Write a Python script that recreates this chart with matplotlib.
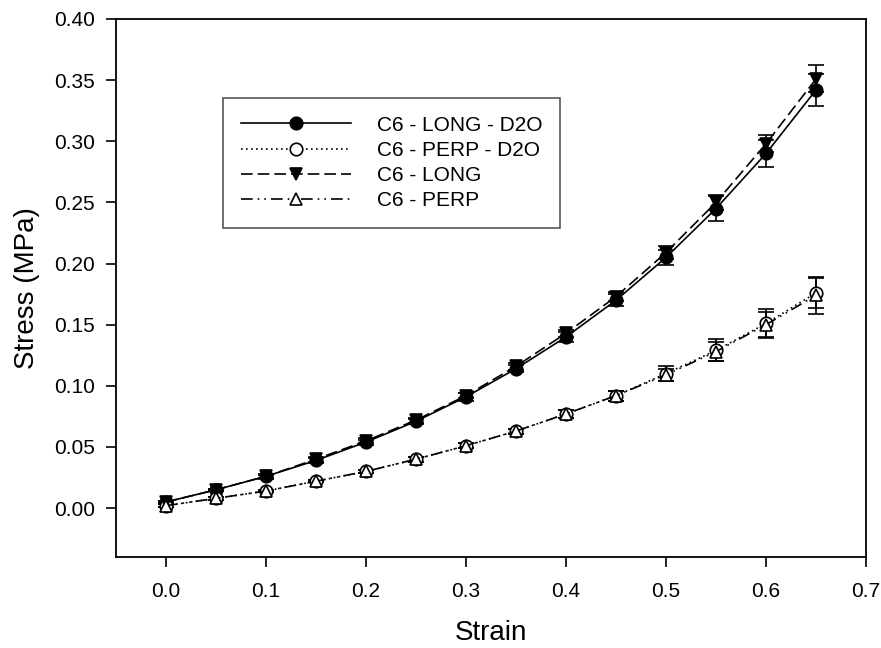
import matplotlib
matplotlib.use("Agg")
import matplotlib.pyplot as plt
from matplotlib.ticker import FormatStrFormatter, MultipleLocator

plt.rcParams['font.family'] = ['Liberation Sans', 'DejaVu Sans']

strain = [0.0, 0.05, 0.1, 0.15, 0.2, 0.25, 0.3, 0.35, 0.4, 0.45, 0.5, 0.55, 0.6, 0.65]

long_d2o = [0.005, 0.015, 0.026, 0.039, 0.054, 0.071, 0.091, 0.114, 0.140, 0.170, 0.205, 0.245, 0.290, 0.342]
long_d2o_err = [0.001, 0.001, 0.002, 0.002, 0.002, 0.002, 0.003, 0.003, 0.004, 0.005, 0.006, 0.010, 0.011, 0.013]

perp_d2o = [0.002, 0.008, 0.014, 0.022, 0.030, 0.040, 0.051, 0.063, 0.077, 0.092, 0.110, 0.129, 0.151, 0.176]
perp_d2o_err = [0.001, 0.001, 0.001, 0.001, 0.001, 0.002, 0.002, 0.002, 0.003, 0.004, 0.006, 0.009, 0.012, 0.012]

long_h2o = [0.005, 0.015, 0.026, 0.040, 0.055, 0.072, 0.092, 0.116, 0.143, 0.173, 0.209, 0.250, 0.298, 0.351]
long_h2o_err = [0.001, 0.001, 0.001, 0.002, 0.002, 0.002, 0.002, 0.003, 0.003, 0.004, 0.005, 0.006, 0.007, 0.011]

perp_h2o = [0.002, 0.008, 0.014, 0.022, 0.030, 0.040, 0.051, 0.063, 0.077, 0.092, 0.109, 0.128, 0.150, 0.174]
perp_h2o_err = [0.001, 0.001, 0.001, 0.001, 0.001, 0.002, 0.002, 0.002, 0.003, 0.004, 0.005, 0.008, 0.010, 0.015]

labels = ["C6 - LONG - D2O", "C6 - PERP - D2O", "C6 - LONG", "C6 - PERP"]

fig = plt.figure(figsize=(8.81, 6.48), dpi=100)
ax = fig.add_axes([0.1317, 0.1404, 0.9830 - 0.1317, 0.9707 - 0.1404])

common = dict(color='black', ecolor='black', elinewidth=1.2, capsize=6, capthick=1.2,
              markersize=9, markeredgecolor='black', markeredgewidth=1.2, linewidth=1.2)

c1 = ax.errorbar(strain, long_d2o, yerr=long_d2o_err, marker='o', markerfacecolor='black',
                 linestyle='-', **common)
c2 = ax.errorbar(strain, perp_d2o, yerr=perp_d2o_err, marker='o', markerfacecolor='white',
                 linestyle=(0, (1, 2)), **common)
c3 = ax.errorbar(strain, long_h2o, yerr=long_h2o_err, marker='v', markerfacecolor='black',
                 linestyle=(0, (7, 3)), **common)
c4 = ax.errorbar(strain, perp_h2o, yerr=perp_h2o_err, marker='^', markerfacecolor='white',
                 linestyle=(0, (7, 3, 1, 3, 1, 3)), **common)

ax.set_xlim(-0.05, 0.70)
ax.set_ylim(-0.04, 0.40)
ax.xaxis.set_major_locator(MultipleLocator(0.1))
ax.yaxis.set_major_locator(MultipleLocator(0.05))
ax.xaxis.set_major_formatter(FormatStrFormatter('%.1f'))
ax.yaxis.set_major_formatter(FormatStrFormatter('%.2f'))
ax.tick_params(direction='out', length=7, width=1.2, labelsize=15, top=False, right=False)
ax.tick_params(axis='x', pad=11)
ax.tick_params(axis='y', pad=8)
for s in ax.spines.values():
    s.set_linewidth(1.3)

ax.set_xlabel("Strain", fontsize=20, labelpad=14)
ax.set_ylabel("Stress (MPa)", fontsize=20, labelpad=10)

handles = [c1[0], c2[0], c3[0], c4[0]]
leg = ax.legend(handles, labels, loc='upper left',
                bbox_to_anchor=(223 / 881, 1 - 98 / 648), bbox_transform=fig.transFigure,
                borderaxespad=0, fontsize=15, handlelength=5.3, handletextpad=1.25,
                labelspacing=0.3, borderpad=0.85, fancybox=False, framealpha=1,
                edgecolor='#555555')
leg.get_frame().set_linewidth(1.2)

fig.savefig("out.png", dpi=100)
